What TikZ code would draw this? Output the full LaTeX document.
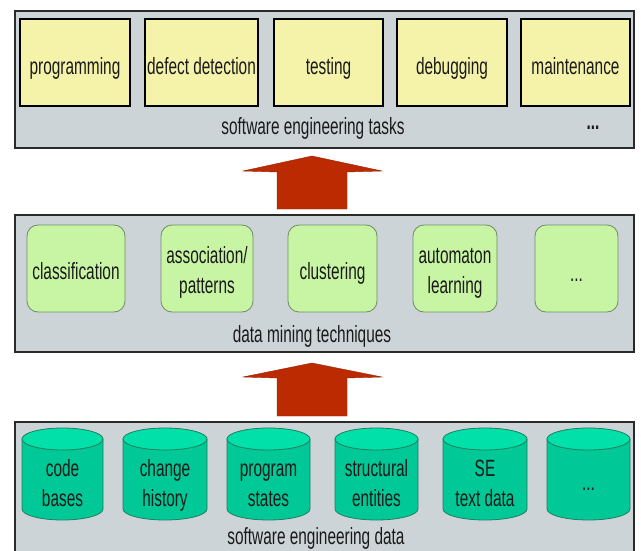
\documentclass[tikz,border=0pt]{standalone}
\usepackage{fontspec}
\setmainfont{Liberation Sans}[FakeStretch=0.655]
\definecolor{panelfill}{HTML}{CDD4D8}
\definecolor{panelline}{HTML}{2A2A2A}
\definecolor{taskfill}{HTML}{F5F2A9}
\definecolor{techfill}{HTML}{C8F5A4}
\definecolor{techline}{HTML}{6E8C66}
\definecolor{cylbodyc}{HTML}{00C896}
\definecolor{cyltopc}{HTML}{00E0A8}
\definecolor{cylline}{HTML}{1F7F60}
\definecolor{arrowred}{HTML}{BB2A00}
\definecolor{txt}{HTML}{1A1A1A}
\begin{document}
\begin{tikzpicture}[x=1pt,y=-1pt,
  font=\fontsize{23.5}{30}\selectfont,
  panel/.style={draw=panelline, line width=1.3pt, fill=panelfill, minimum width=619pt, minimum height=137pt, inner sep=0pt},
  task/.style={draw=black, line width=1.2pt, fill=taskfill, minimum height=87pt, inner sep=0pt},
  tech/.style={draw=techline, line width=0.8pt, fill=techfill, rounded corners=11pt, minimum height=87pt, inner sep=0pt},
  lbl/.style={text=txt, align=center, inner sep=0pt, anchor=base},
  bigarrow/.style={fill=arrowred, draw=arrowred!80!black, line width=0.4pt},
  cylbody/.style={fill=cylbodyc, draw=cylline, line width=0.8pt},
  cyltop/.style={fill=cyltopc, draw=cylline, line width=0.8pt}]
\clip (0,0) rectangle (641,550);
\fill[white] (0,0) rectangle (641,550);

% panels
\node[panel] (tasks) at (324.5,79.5) {};
\node[panel] (mining) at (324.5,283.5) {};
\node[panel, minimum height=160pt] (data) at (324.5,502) {};

% task boxes
\node[task, minimum width=110pt] (t1) at (75,62.5) {};
\node[task, minimum width=113pt] (t2) at (201.5,62.5) {};
\node[task, minimum width=109pt] (t3) at (328.5,62.5) {};
\node[task, minimum width=110pt] (t4) at (452,62.5) {};
\node[task, minimum width=109pt] (t5) at (575.5,62.5) {};
\node[lbl] (t1l) at (75,74) {programming};
\node[lbl] (t2l) at (201.5,74) {defect detection};
\node[lbl] (t3l) at (328.5,74) {testing};
\node[lbl] (t4l) at (452,74) {debugging};
\node[lbl] (t5l) at (575.5,74) {maintenance};
\node[lbl] (tl) at (313,134) {software engineering tasks};
\node[lbl] (tdots) at (593,129) {\textbf{...}};

% technique boxes
\node[tech, minimum width=98pt] (m1) at (76,268.5) {};
\node[tech, minimum width=92pt] (m2) at (207,268.5) {};
\node[tech, minimum width=89pt] (m3) at (332.5,268.5) {};
\node[tech, minimum width=84pt] (m4) at (455,268.5) {};
\node[tech, minimum width=83pt] (m5) at (576.5,268.5) {};
\node[lbl] (m1l) at (76,279) {classification};
\node[lbl] (m2l) at (207,293) {association/\\patterns};
\node[lbl] (m3l) at (332.5,279) {clustering};
\node[lbl] (m4l) at (455,293) {automaton\\learning};
\node[lbl] (m5l) at (576.5,281) {...};
\node[lbl] (ml) at (312,342) {data mining techniques};

% cylinders
\foreach \a/\b in {22/103, 123/207, 227/310, 335/418, 443/527, 547/630}{
  \pgfmathsetmacro{\rx}{(\b-\a)/2}
  \pgfmathsetmacro{\cx}{(\b+\a)/2}
  \draw[cylbody] (\a,439) -- (\a,509) arc[start angle=180, end angle=0, x radius=\rx, y radius=11] -- (\b,439) -- cycle;
  \draw[cyltop] (\cx,439) ellipse[x radius=\rx, y radius=11];
}
\node[lbl] (d1) at (62.5,506) {code\\bases};
\node[lbl] (d2) at (165,506) {change\\history};
\node[lbl] (d3) at (268.5,506) {program\\states};
\node[lbl] (d4) at (376.5,506) {structural\\entities};
\node[lbl] (d5) at (485,506) {SE\\text data};
\node[lbl] (d6) at (588.5,490) {...};
\node[lbl] (dl) at (316,544) {software engineering data};

% block arrows
\fill[bigarrow] (277,209) -- (277,172) -- (243,171) -- (312,156) -- (382,171) -- (347,172) -- (347,209) -- cycle;
\fill[bigarrow] (277,416) -- (277,378) -- (243,377) -- (312,363) -- (382,377) -- (347,378) -- (347,416) -- cycle;
\end{tikzpicture}
\end{document}
